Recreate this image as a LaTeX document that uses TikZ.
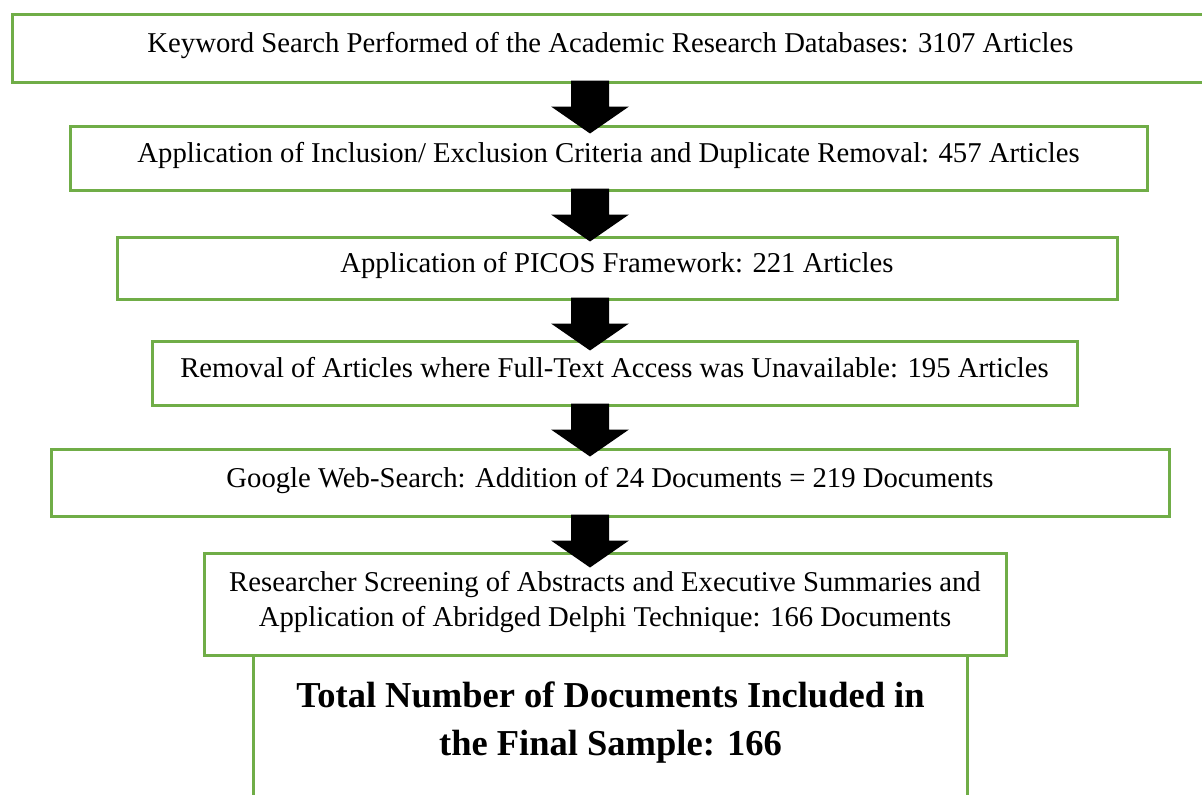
\documentclass[tikz,border=0pt]{standalone}
\usepackage{fontspec}
\setmainfont{Liberation Serif}
\usetikzlibrary{calc}
\definecolor{boxgreen}{HTML}{70AD47}

% block arrow hanging below a stage box: shaft, then a wide triangular head
\newcommand\flowarrow[1]{%
  \fill[black] ($(ax |- #1.south)+(-19,-3)$) -- ++(38,0) -- ++(0,26) -- ++(20,0)
    -- ($(ax |- #1.south)+(0,50)$) -- ($(ax |- #1.south)+(-39,23)$) -- ++(20,0) -- cycle;}

\begin{document}
\begin{tikzpicture}[x=1pt,y=-1pt,
  stage/.style={draw=boxgreen, line width=3pt, fill=white, inner sep=0pt},
  stagetext/.style={anchor=base, inner sep=0pt, font=\fontsize{28.7}{35}\selectfont},
  finaltext/.style={anchor=base, inner sep=0pt, font=\fontsize{36.5}{48}\selectfont\bfseries}]
\clip (0,0) rectangle (1202,795);
\fill[white] (0,0) rectangle (1202,795);
\coordinate (ax) at (590,0);

% stage boxes
\node[stage, minimum width=1200, minimum height=68] (b1) at (612,48) {};
\node[stage, minimum width=1077, minimum height=64] (b2) at (608.5,158) {};
\node[stage, minimum width=1000, minimum height=62] (b3) at (617,268) {};
\node[stage, minimum width=925,  minimum height=64] (b4) at (614.5,373) {};
\node[stage, minimum width=1118, minimum height=67] (b5) at (610,482.5) {};
\node[stage, minimum width=714,  minimum height=165] (b7) at (610,737.5) {};
\node[stage, minimum width=802,  minimum height=102] (b6) at (605,604) {};

% stage labels
\node[stagetext] (t1) at ($(b1.center)+(-1.5,4.5)$) {Keyword Search Performed of the Academic Research Databases: 3107 Articles};
\node[stagetext] (t2) at ($(b2.center)+(0,4.5)$) {Application of Inclusion/ Exclusion Criteria and Duplicate Removal: 457 Articles};
\node[stagetext] (t3) at ($(b3.center)+(0,4.5)$) {Application of PICOS Framework: 221 Articles};
\node[stagetext] (t4) at ($(b4.center)+(0,4.5)$) {Removal of Articles where Full-Text Access was Unavailable: 195 Articles};
\node[stagetext] (t5) at ($(b5.center)+(0,4.5)$) {Google Web-Search: Addition of 24 Documents = 219 Documents};
\node[stagetext] (t6a) at ($(b6.center)+(0,-13)$) {Researcher Screening of Abstracts and Executive Summaries and};
\node[stagetext] (t6b) at ($(b6.center)+(0,22)$) {Application of Abridged Delphi Technique: 166 Documents};
\node[finaltext] (t7a) at (610.5,707.5) {Total Number of Documents Included in};
\node[finaltext] (t7b) at (610.5,755.5) {the Final Sample: 166};

% arrows between stages
\flowarrow{b1}
\flowarrow{b2}
\flowarrow{b3}
\flowarrow{b4}
\flowarrow{b5}
\end{tikzpicture}
\end{document}
